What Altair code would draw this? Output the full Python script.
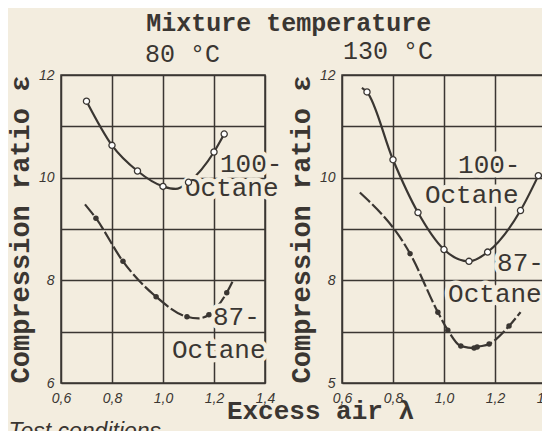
import altair as alt
import pandas as pd

BG = "#f3eddf"
INK = "#3a3632"
MONO = "Liberation Mono"

# ---------------- data ----------------
# Left panel: mixture temperature 80 °C
L100_pts_x = [0.70, 0.80, 0.90, 1.00, 1.10, 1.20, 1.24]
L100_pts_y = [11.49, 10.63, 10.13, 9.83, 9.91, 10.50, 10.85]
L100_cur_x = [0.70, 0.80, 0.90, 1.00, 1.05, 1.10, 1.20, 1.24]
L100_cur_y = [11.49, 10.63, 10.13, 9.83, 9.78, 9.91, 10.50, 10.85]

L87_pts_x = [0.737, 0.843, 0.973, 1.094, 1.18, 1.25]
L87_pts_y = [9.21, 8.37, 7.68, 7.29, 7.33, 7.76]
L87_cur_x = [0.694, 0.737, 0.843, 0.973, 1.094, 1.14, 1.18, 1.25, 1.275]
L87_cur_y = [9.48, 9.21, 8.37, 7.68, 7.29, 7.26, 7.33, 7.76, 8.00]

# Right panel: mixture temperature 130 °C
R100_pts_x = [0.698, 0.80, 0.898, 1.00, 1.098, 1.171, 1.30, 1.37]
R100_pts_y = [11.67, 10.35, 9.32, 8.60, 8.37, 8.55, 9.36, 10.04]
R100_cur_x = [0.678, 0.698, 0.80, 0.898, 1.00, 1.098, 1.171, 1.30, 1.37]
R100_cur_y = [11.75, 11.67, 10.35, 9.32, 8.60, 8.37, 8.55, 9.36, 10.04]

R87_pts_x = [0.867, 0.976, 1.015, 1.066, 1.118, 1.13, 1.177, 1.255]
R87_pts_y = [8.52, 7.38, 7.03, 6.72, 6.68, 6.70, 6.76, 7.11]
R87_cur_x = [0.67, 0.867, 0.976, 1.015, 1.066, 1.118, 1.13, 1.177, 1.255, 1.30]
R87_cur_y = [9.71, 8.52, 7.38, 7.03, 6.72, 6.68, 6.70, 6.76, 7.11, 7.38]

# curve labels: text, x, y
L_lab_text = ["100-", "Octane", "87-", "Octane"]
L_lab_x = [1.2235, 1.086, 1.196, 1.035]
L_lab_y = [10.105, 9.64, 7.137, 6.49]
R_lab_text = ["100-", "Octane", "87-", "Octane"]
R_lab_x = [1.055, 0.925, 1.208, 1.016]
R_lab_y = [10.10, 9.50, 8.19, 7.57]

# axes
x_grid = [0.6, 0.8, 1.0, 1.2, 1.4]
x_tick_labels = ["0,6", "0,8", "1,0", "1,2", "1,4"]
y_grid = [6, 7, 8, 9, 10, 11, 12]
y_lab_vals = [6, 8, 10, 12]
y_lab_left = ["6", "8", "10", "12"]
y_lab_right = ["5", "8", "10", "12"]

main_title = "Mixture temperature"
left_title = "80 °C"
right_title = "130 °C"
y_title = "Compression ratio ε"
x_title = "Excess air λ"
below_text = "Test conditions"

W, H = 204, 308


def label_expr(vals, labs):
    expr = "''"
    for v, l in reversed(list(zip(vals, labs))):
        expr = f"abs(datum.value - {v}) < 0.01 ? '{l}' : ({expr})"
    return expr


def panel(c100x, c100y, p100x, p100y, c87x, c87y, p87x, p87y,
          labt, labx, laby, ylabs, title, tdx, toff, xaxis_title):
    xs = alt.Scale(domain=[0.6, 1.4], nice=False, zero=False)
    ys = alt.Scale(domain=[6, 12], nice=False, zero=False)
    xa = alt.Axis(values=x_grid, labelExpr=label_expr(x_grid, x_tick_labels),
                  ticks=False, domain=False, grid=True, gridColor=INK,
                  gridWidth=1.5, gridOpacity=1, labelFont="Liberation Sans",
                  labelFontStyle="italic", labelFontSize=14, labelColor=INK,
                  labelPadding=8, labelFlush=False, labelOverlap=False,
                  **xaxis_title)
    ya = alt.Axis(values=y_grid, labelExpr=label_expr(y_lab_vals, ylabs),
                  ticks=False, domain=False, grid=True, gridColor=INK,
                  gridWidth=1.5, gridOpacity=1, labelFont="Liberation Sans",
                  labelFontStyle="italic", labelFontSize=14, labelColor=INK,
                  labelPadding=7, labelFlush=False, labelOverlap=False,
                  title=y_title, titleFont=MONO, titleFontSize=27,
                  titleFontWeight="bold", titleColor=INK, titleAngle=270,
                  titleX=-41, titleY=H / 2, titleAlign="center",
                  titleBaseline="middle")

    d100 = pd.DataFrame({"x": c100x, "y": c100y})
    q100 = pd.DataFrame({"x": p100x, "y": p100y})
    d87 = pd.DataFrame({"x": c87x, "y": c87y})
    q87 = pd.DataFrame({"x": p87x, "y": p87y})
    lab = pd.DataFrame({"t": labt, "x": labx, "y": laby})

    base_enc = dict(x=alt.X("x:Q", scale=xs, axis=xa),
                    y=alt.Y("y:Q", scale=ys, axis=ya))
    enc = dict(x=alt.X("x:Q", scale=xs), y=alt.Y("y:Q", scale=ys))

    l100 = alt.Chart(d100).mark_line(color=INK, strokeWidth=2.2,
                                     interpolate="monotone").encode(**base_enc)
    m100 = alt.Chart(q100).mark_point(shape="circle", filled=True, fill="white",
                                      stroke=INK, strokeWidth=1.3, size=38,
                                      opacity=1).encode(**enc)
    l87 = alt.Chart(d87).mark_line(color=INK, strokeWidth=2.2,
                                   strokeDash=[14, 3],
                                   interpolate="monotone").encode(**enc)
    m87 = alt.Chart(q87).mark_point(shape="circle", filled=True, fill=INK,
                                    size=30, opacity=1).encode(**enc)
    halo = alt.Chart(lab).mark_text(font=MONO, fontSize=26, align="left",
                                    baseline="alphabetic", stroke=BG,
                                    strokeWidth=9, fill=BG,
                                    strokeJoin="round").encode(text="t:N", **enc)
    txt = alt.Chart(lab).mark_text(font=MONO, fontSize=26, align="left",
                                   baseline="alphabetic", color=INK
                                   ).encode(text="t:N", **enc)
    return alt.layer(l100, l87, halo, txt, m100, m87).properties(
        width=W, height=H,
        title=alt.TitleParams(title, anchor="start", dx=tdx, offset=toff,
                              font=MONO, fontSize=25, fontWeight="normal",
                              color=INK, baseline="alphabetic", frame="group"))


left = panel(L100_cur_x, L100_cur_y, L100_pts_x, L100_pts_y,
             L87_cur_x, L87_cur_y, L87_pts_x, L87_pts_y,
             L_lab_text, L_lab_x, L_lab_y, y_lab_left, left_title, 84, -19,
             dict(title=below_text, titleFont="Liberation Sans",
                  titleFontStyle="italic", titleFontWeight="normal",
                  titleFontSize=23, titleColor=INK, titleX=-53, titleY=55,
                  titleAlign="left", titleBaseline="alphabetic"))
right = panel(R100_cur_x, R100_cur_y, R100_pts_x, R100_pts_y,
              R87_cur_x, R87_cur_y, R87_pts_x, R87_pts_y,
              R_lab_text, R_lab_x, R_lab_y, y_lab_right, right_title, 1, -16,
              dict(title=x_title, titleFont=MONO, titleFontWeight="bold",
                   titleFontSize=26, titleColor=INK, titleX=-22, titleY=35,
                   titleAlign="center", titleBaseline="alphabetic"))

chart = alt.hconcat(left, right, spacing=77, bounds="flush").properties(
    title=alt.TitleParams(main_title, anchor="start", dx=141, font=MONO,
                          fontSize=25, fontWeight="bold", color=INK,
                          baseline="alphabetic", offset=-18),
    autosize=alt.AutoSizeParams(type="none"),
    padding={"left": 53, "top": 67, "right": 481, "bottom": 356},
    background=BG,
).configure_view(stroke=INK, strokeWidth=1.5)

chart.save("out.html", embed_options={"renderer": "svg", "actions": False})
